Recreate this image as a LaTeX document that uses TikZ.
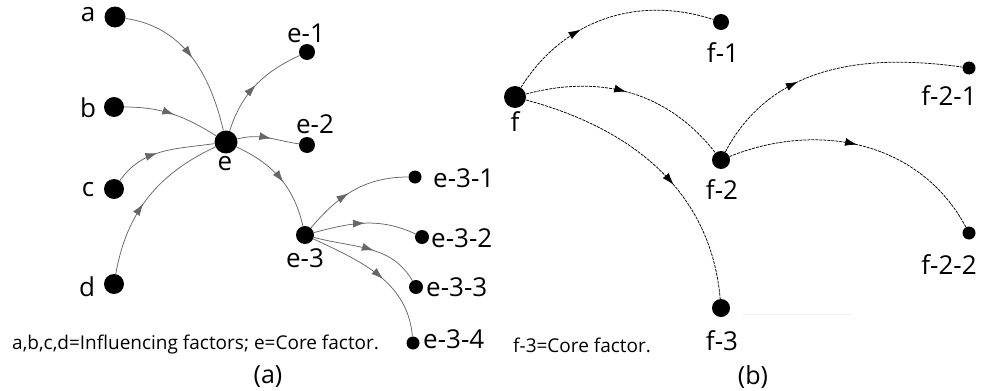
\documentclass[tikz,border=0pt]{standalone}
\usepackage{fontspec}
\setmainfont{Open Sans}
\usetikzlibrary{decorations.markings,arrows.meta}
\begin{document}
\begin{tikzpicture}[x=1pt,y=1pt,
  dot/.style={circle,fill=black,inner sep=0pt,minimum size=#1},
  lbl/.style={inner sep=0pt,font=\fontsize{26}{26}\selectfont},
  captxt/.style={inner sep=0pt,font=\fontsize{19}{19}\selectfont},
  subtxt/.style={inner sep=0pt,font=\fontsize{25}{25}\selectfont},
  midarr/.style={postaction={decorate},decoration={markings,mark=at position #1 with {\arrow{Latex[length=12pt,width=8pt]}}}},
  sline/.style={draw=black!60,line width=0.75pt},
  dline/.style={draw=black,line width=0.75pt,dash pattern=on 3pt off 1pt},
]
\useasboundingbox (0,0) rectangle (986,-391);
% left graph dots
\node[dot=21pt] (a) at (115,-17) {};
\node[dot=20pt] (b) at (114,-107) {};
\node[dot=20pt] (c) at (114,-189) {};
\node[dot=20pt] (d) at (114,-284) {};
\node[dot=23pt] (e) at (226,-142) {};
\node[dot=16pt] (e1) at (307,-52) {};
\node[dot=16pt] (e2) at (307,-145) {};
\node[dot=18pt] (e3) at (305,-235) {};
\node[dot=13pt] (e31) at (415,-177) {};
\node[dot=14pt] (e32) at (422,-237) {};
\node[dot=14pt] (e33) at (416,-287) {};
\node[dot=13pt] (e34) at (413,-343) {};
% left labels
\node[lbl] (la) at (88,-15) {a};
\node[lbl] (lb) at (88,-108) {b};
\node[lbl] (lc) at (88,-190) {c};
\node[lbl] (ld) at (87,-287) {d};
\node[lbl] (le) at (225,-164) {e};
\node[lbl] (le1) at (306,-33) {e-1};
\node[lbl] (le2) at (315,-124) {e-2};
\node[lbl] (le3) at (305,-258) {e-3};
\node[lbl,anchor=west] (le31) at (433,-178) {e-3-1};
\node[lbl,anchor=west] (le32) at (431,-238) {e-3-2};
\node[lbl,anchor=west] (le33) at (426,-287) {e-3-3};
\node[lbl,anchor=west] (le34) at (423,-339) {e-3-4};
\node[captxt,anchor=west] (capa) at (12,-345) {a,b,c,d=Influencing factors; e=Core factor.};
\node[subtxt] (suba) at (268,-377) {(a)};
% left edges
\draw[sline,midarr=0.5] (a) to[out=-8,in=103] (e);
\draw[sline,midarr=0.52] (b) to[out=0,in=148] (e);
\draw[sline,midarr=0.45] (c) to[out=55,in=188] (e);
\draw[sline,midarr=0.45] (d) to[out=80,in=205] (e);
\draw[sline,midarr=0.5] (e) to[out=72,in=205] (e1);
\draw[sline,midarr=0.55] (e) to[out=15,in=172] (e2);
\draw[sline,midarr=0.55] (e) to[out=-25,in=103] (e3);
\draw[sline,midarr=0.45] (e3) to[out=50,in=180] (e31);
\draw[sline,midarr=0.5] (e3) to[out=15,in=155] (e32);
\draw[sline,midarr=0.55] (e3) to[out=-15,in=120] (e33);
\draw[sline,midarr=0.55] (e3) to[out=-25,in=95] (e34);
% right graph dots
\node[dot=22pt] (f) at (515,-97) {};
\node[dot=16pt] (f1) at (721,-22) {};
\node[dot=18pt] (f2) at (721,-160) {};
\node[dot=13pt] (f21) at (969,-68) {};
\node[dot=13pt] (f22) at (969,-233) {};
\node[dot=18pt] (f3) at (721,-308) {};
% right labels
\node[lbl] (lf) at (515,-122) {f};
\node[lbl] (lf1) at (723,-53) {f-1};
\node[lbl] (lf2) at (722,-190) {f-2};
\node[lbl] (lf21) at (949,-96) {f-2-1};
\node[lbl] (lf22) at (949,-265) {f-2-2};
\node[lbl] (lf3) at (722,-341) {f-3};
\node[captxt,anchor=west] (capb) at (513,-345) {f-3=Core factor.};
\node[subtxt] (subb) at (753,-377) {(b)};
\draw[black!6,line width=1pt] (743,-314) -- (852,-314);
% right edges
\draw[dline,midarr=0.38] (f) to[out=58,in=162] (f1);
\draw[dline,midarr=0.48] (f) to[out=15,in=128] (f2);
\draw[dline,midarr=0.58] (f) to[out=-15,in=95] (f3);
\draw[dline,midarr=0.38] (f2) to[out=62,in=172] (f21);
\draw[dline,midarr=0.48] (f2) to[out=22,in=118] (f22);
\end{tikzpicture}
\end{document}
